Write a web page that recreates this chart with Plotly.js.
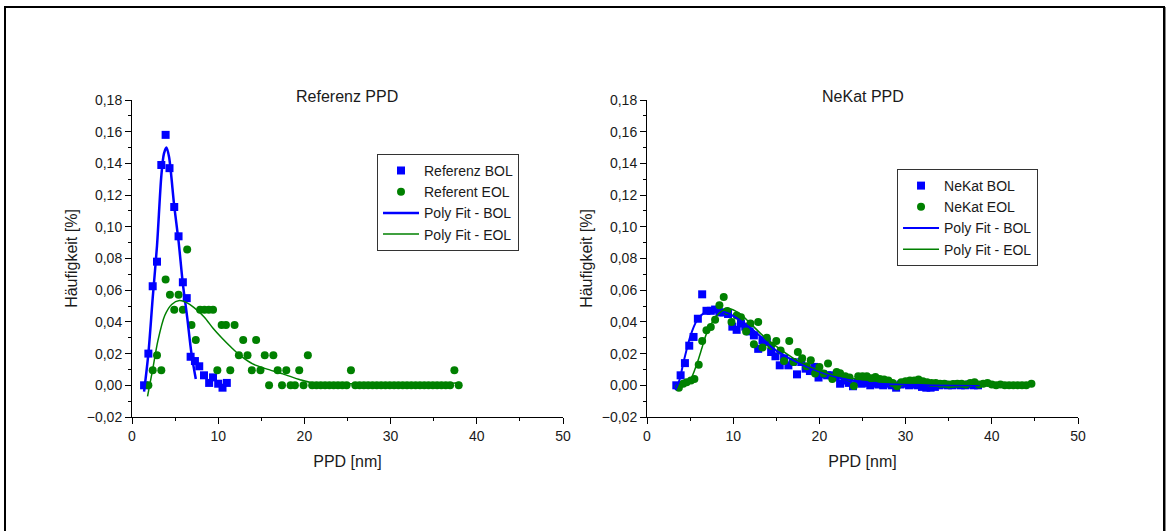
<!DOCTYPE html>
<html>
<head>
<meta charset="utf-8">
<script src="https://cdn.plot.ly/plotly-3.0.1.min.js"></script>
<style>
html,body{margin:0;padding:0;background:#fff;overflow:hidden;width:1166px;height:531px;}
#chart{position:absolute;left:0;top:0;width:1166px;height:531px;}
#frame{position:absolute;left:4px;top:6px;width:1157px;height:600px;border:2px solid #000;pointer-events:none;box-shadow:1px 1px 0 #888;}
</style>
</head>
<body>
<div id="chart"></div>
<div id="frame"></div>
<script>
// ---------- Referenz PPD ----------
const refBolX = [1.4,1.9,2.4,2.9,3.4,3.9,4.35,4.9,5.4,5.9,6.35,6.8,7.3,7.8,8.35,8.95,9.4,10.0,10.5,11.0];
const refBolY = [0.0,0.02,0.0625,0.078,0.139,0.158,0.137,0.1125,0.094,0.065,0.055,0.018,0.0153,0.012,0.0063,0.0015,0.005,0.001,-0.0015,0.0015];

const refEolX = [1.9,2.4,2.9,3.4,3.9,4.4,4.9,5.4,5.9,6.4,6.9,7.4,7.9,8.4,8.9,9.4,9.9,10.4,10.9,11.4,
  11.9,12.4,12.9,13.4,13.9,14.4,14.9,15.4,15.9,16.4,16.9,17.4,17.9,18.4,18.9,19.4,19.9,20.4,20.9,21.4,
  21.9,22.4,22.9,23.4,23.9,24.4,24.9,25.4,25.9,26.4,26.9,27.4,27.9,28.4,28.9,29.4,29.9,30.4,30.9,31.4,
  31.9,32.4,32.9,33.4,33.9,34.4,34.9,35.4,35.9,36.4,36.9,37.4,37.9];
const refEolY = [0,0.0095,0.019,0.0095,0.0667,0.0571,0.0476,0.0571,0.0476,0.0857,0.0381,0.0286,0.0476,0.0476,0.0476,0.0476,0.0095,0.0381,0.0381,0.0095,
  0.0381,0.019,0.0286,0.019,0.0095,0.0286,0.0095,0.019,0,0.019,0.0095,0,0.0095,0,0,0.0095,0,0.019,0,0,
  0,0,0,0,0,0,0,0.0095,0,0,0,0,0,0,0,0,0,0,0,0,
  0,0,0,0,0,0,0,0,0,0,0,0.0095,0];

const refFitBolX = [1.4,1.9,2.4,2.9,3.4,3.7,4.0,4.3,4.9,5.4,5.9,6.4,6.9,7.4];
const refFitBolY = [-0.004,0.02,0.055,0.088,0.132,0.146,0.150,0.144,0.113,0.091,0.064,0.043,0.02,0.004];

const refFitEolX = [1.8,2.4,3.0,3.8,4.6,5.5,6.4,7.2,8.4,9.4,10.4,11.5,12.5,14.0,15.5,17.5,19.5,21.0,25.0,30.0,35.0,37.5,38.0];
const refFitEolY = [-0.007,0.01,0.028,0.044,0.051,0.0535,0.052,0.049,0.043,0.036,0.03,0.024,0.019,0.0135,0.0105,0.0072,0.0035,0.0015,0.001,0.001,0.001,0.0015,0.002];

// ---------- NeKat PPD ----------
const nkBolX = [3.4,3.9,4.4,4.9,5.4,5.9,6.4,6.9,7.4,7.9,8.4,8.9,9.4,9.9,10.4,10.9,11.4,11.9,12.4,12.9,
  13.4,13.9,14.4,14.9,15.4,15.9,16.4,16.9,17.4,17.9,18.4,18.9,19.4,19.9,20.4,20.9,21.4,21.9,22.4,22.9,
  23.4,23.9,24.4,24.9,25.4,25.9,26.4,26.9,27.4,27.9,28.4,28.9,29.4,29.9,30.4,30.9,31.4,31.9,32.4,32.9,
  33.4,33.9,34.4,34.9,35.4,35.9,36.4,36.9,37.4,37.9,38.4];
const nkBolY = [0.0,0.0063,0.014,0.025,0.0305,0.042,0.0574,0.047,0.047,0.0478,0.046,0.046,0.045,0.037,0.035,0.039,0.037,0.034,0.0315,0.023,
  0.0284,0.0273,0.021,0.0183,0.0126,0.017,0.0126,0.0147,0.0069,0.0147,0.0105,0.009,0.0116,0.0049,0.007,0.0063,0.0063,0.0052,0.001,0.003,
  0.0015,-0.0006,0.002,0.001,0.0015,0.0,0.001,0.0005,0.0,0.001,0.0,-0.0015,0.0005,0.001,0.0,0.0005,0.0,-0.001,-0.0015,-0.0015,
  -0.001,0.0,0.0005,0.0,0.0,0.0005,0.0,0.0,0.0005,0.0,0.0];

const nkEolX = [3.7,4.2,4.6,5.1,5.5,6.0,6.4,6.9,7.4,7.9,8.4,8.9,9.3,9.8,10.4,10.9,11.5,12.0,12.4,12.9,
  13.4,13.9,14.4,15.0,15.5,15.9,16.5,17.0,17.5,18.0,18.5,19.0,19.5,20.0,20.5,21.0,21.5,22.0,22.4,23.0,
  23.5,24.0,24.5,25.0,25.5,26.0,26.5,27.0,27.5,28.0,28.5,29.0,29.5,30.0,30.5,31.0,31.5,32.0,32.5,33.0,
  33.5,34.0,34.5,35.0,35.5,36.0,36.5,37.0,37.5,38.0,38.5,39.0,39.5,40.0,40.5,41.0,41.5,42.0,42.5,43.0,
  43.5,44.0,44.6];
const nkEolY = [-0.0015,0.001,0.002,0.003,0.004,0.013,0.028,0.0347,0.0368,0.0414,0.0505,0.0557,0.0469,0.040,0.044,0.043,0.034,0.039,0.0259,0.040,
  0.0238,0.030,0.025,0.028,0.022,0.0153,0.028,0.0147,0.021,0.017,0.012,0.0158,0.0075,0.0116,0.0074,0.0137,0.004,0.0084,0.0076,0.0057,
  0.0049,-0.0005,0.0057,0.0057,0.0057,0.0045,0.0052,0.004,0.0036,0.003,0.0015,-0.0006,0.002,0.0025,0.003,0.003,0.0036,0.0025,0.002,0.0015,
  0.0015,0.001,0.001,0.0005,0.0008,0.001,0.001,0.0005,0.0015,0.002,0.0005,0.001,0.0015,0.0005,0.0,0.0005,0.0,0.0,0.0,0.0,
  0.0,0.0,0.001];

const nkFitBolX = [3.3,3.8,4.2,5.0,5.8,6.7,7.5,8.1,9.3,10.8,12.8,14.7,16.6,18.6,20.9,23.2,24.8,27.0,30.0,33.0,36.0,38.6];
const nkFitBolY = [-0.003,0.004,0.0137,0.0305,0.041,0.046,0.0475,0.047,0.0456,0.041,0.0326,0.023,0.0168,0.0116,0.0069,0.0036,0.002,0.001,0.0005,0.0,0.0,0.0];

const nkFitEolX = [3.8,4.4,5.0,5.8,6.4,6.9,7.7,8.7,9.5,10.8,12.0,13.5,15.0,17.0,19.0,21.0,23.0,25.0,28.0,32.0,36.0,40.0,44.6];
const nkFitEolY = [-0.002,0.0005,0.003,0.0137,0.024,0.0326,0.041,0.047,0.0484,0.045,0.039,0.031,0.0245,0.017,0.0115,0.0075,0.005,0.0035,0.002,0.0013,0.0008,0.0005,0.0005];

// ---------- styling ----------
const BLUE = '#0000ff', GREEN = '#008000';
const FONT = 'Liberation Sans, Arial, sans-serif';

function sq(x, y, name, xa, ya, lg) {
  return {x, y, name, xaxis: xa, yaxis: ya, legend: lg, type: 'scatter', mode: 'markers',
    marker: {symbol: 'square', size: 8, color: BLUE, line: {width: 0}}};
}
function ci(x, y, name, xa, ya, lg) {
  return {x, y, name, xaxis: xa, yaxis: ya, legend: lg, type: 'scatter', mode: 'markers',
    marker: {symbol: 'circle', size: 8, color: GREEN, line: {width: 0}}};
}
function ln(x, y, name, xa, ya, lg, color, w) {
  return {x, y, name, xaxis: xa, yaxis: ya, legend: lg, type: 'scatter', mode: 'lines',
    line: {color, width: w, shape: 'spline', smoothing: 0.8}};
}

const traces = [
  sq(refBolX, refBolY, 'Referenz BOL', 'x', 'y', 'legend'),
  ci(refEolX, refEolY, 'Referent EOL', 'x', 'y', 'legend'),
  ln(refFitBolX, refFitBolY, 'Poly Fit - BOL', 'x', 'y', 'legend', BLUE, 2.5),
  ln(refFitEolX, refFitEolY, 'Poly Fit - EOL', 'x', 'y', 'legend', GREEN, 1.5),
  sq(nkBolX, nkBolY, 'NeKat BOL', 'x2', 'y2', 'legend2'),
  ci(nkEolX, nkEolY, 'NeKat EOL', 'x2', 'y2', 'legend2'),
  ln(nkFitBolX, nkFitBolY, 'Poly Fit - BOL', 'x2', 'y2', 'legend2', BLUE, 2),
  ln(nkFitEolX, nkFitEolY, 'Poly Fit - EOL', 'x2', 'y2', 'legend2', GREEN, 1.5)
];

function xAxis(domain, anchor) {
  return {domain, anchor, range: [0, 50], dtick: 10, tick0: 0,
    showline: true, linecolor: '#000', linewidth: 1, mirror: false,
    showgrid: false, zeroline: false,
    ticks: 'outside', ticklen: 6, tickwidth: 1, tickcolor: '#000',
    minor: {ticks: 'outside', ticklen: 3, dtick: 5, tickcolor: '#000', showgrid: false},
    tickfont: {family: FONT, size: 14, color: '#1a1a1a'},
    title: {text: 'PPD [nm]', font: {family: FONT, size: 16, color: '#1a1a1a'}, standoff: 13}};
}
function yAxis(anchor) {
  return {domain: [0, 1], anchor, range: [-0.02, 0.18], dtick: 0.02, tick0: 0, tickformat: '.2f',
    showline: true, linecolor: '#000', linewidth: 1, mirror: false,
    showgrid: false, zeroline: false,
    ticks: 'outside', ticklen: 6, tickwidth: 1, tickcolor: '#000',
    minor: {ticks: 'outside', ticklen: 3, dtick: 0.01, tickcolor: '#000', showgrid: false},
    tickfont: {family: FONT, size: 14, color: '#1a1a1a'},
    title: {text: 'Häufigkeit [%]', font: {family: FONT, size: 16, color: '#1a1a1a'}, standoff: 5}};
}

const legendStyle = {bgcolor: '#fff', bordercolor: '#333', borderwidth: 1,
  font: {family: FONT, size: 14, color: '#1a1a1a'}, xanchor: 'left', yanchor: 'top',
  itemwidth: 36, tracegroupgap: 0};

const layout = {
  width: 1166, height: 531,
  margin: {l: 132, r: 88, t: 100, b: 114, pad: 0},
  paper_bgcolor: '#fff', plot_bgcolor: '#fff',
  separators: ', ',
  showlegend: true,
  xaxis: xAxis([0, 431 / 946], 'y'),
  yaxis: yAxis('x'),
  xaxis2: xAxis([515 / 946, 1], 'y2'),
  yaxis2: yAxis('x2'),
  legend: Object.assign({x: 0.259, y: 0.83}, legendStyle),
  legend2: Object.assign({x: 0.8087, y: 0.7823}, legendStyle),
  annotations: [
    {text: 'Referenz PPD', xref: 'paper', yref: 'paper', x: 0.2278, y: 1.0095,
     xanchor: 'center', yanchor: 'middle', showarrow: false,
     font: {family: FONT, size: 16, color: '#1a1a1a'}},
    {text: 'NeKat PPD', xref: 'paper', yref: 'paper', x: 0.7722, y: 1.0095,
     xanchor: 'center', yanchor: 'middle', showarrow: false,
     font: {family: FONT, size: 16, color: '#1a1a1a'}}
  ]
};

Plotly.newPlot('chart', traces, layout, {displayModeBar: false, staticPlot: true});
</script>
</body>
</html>
